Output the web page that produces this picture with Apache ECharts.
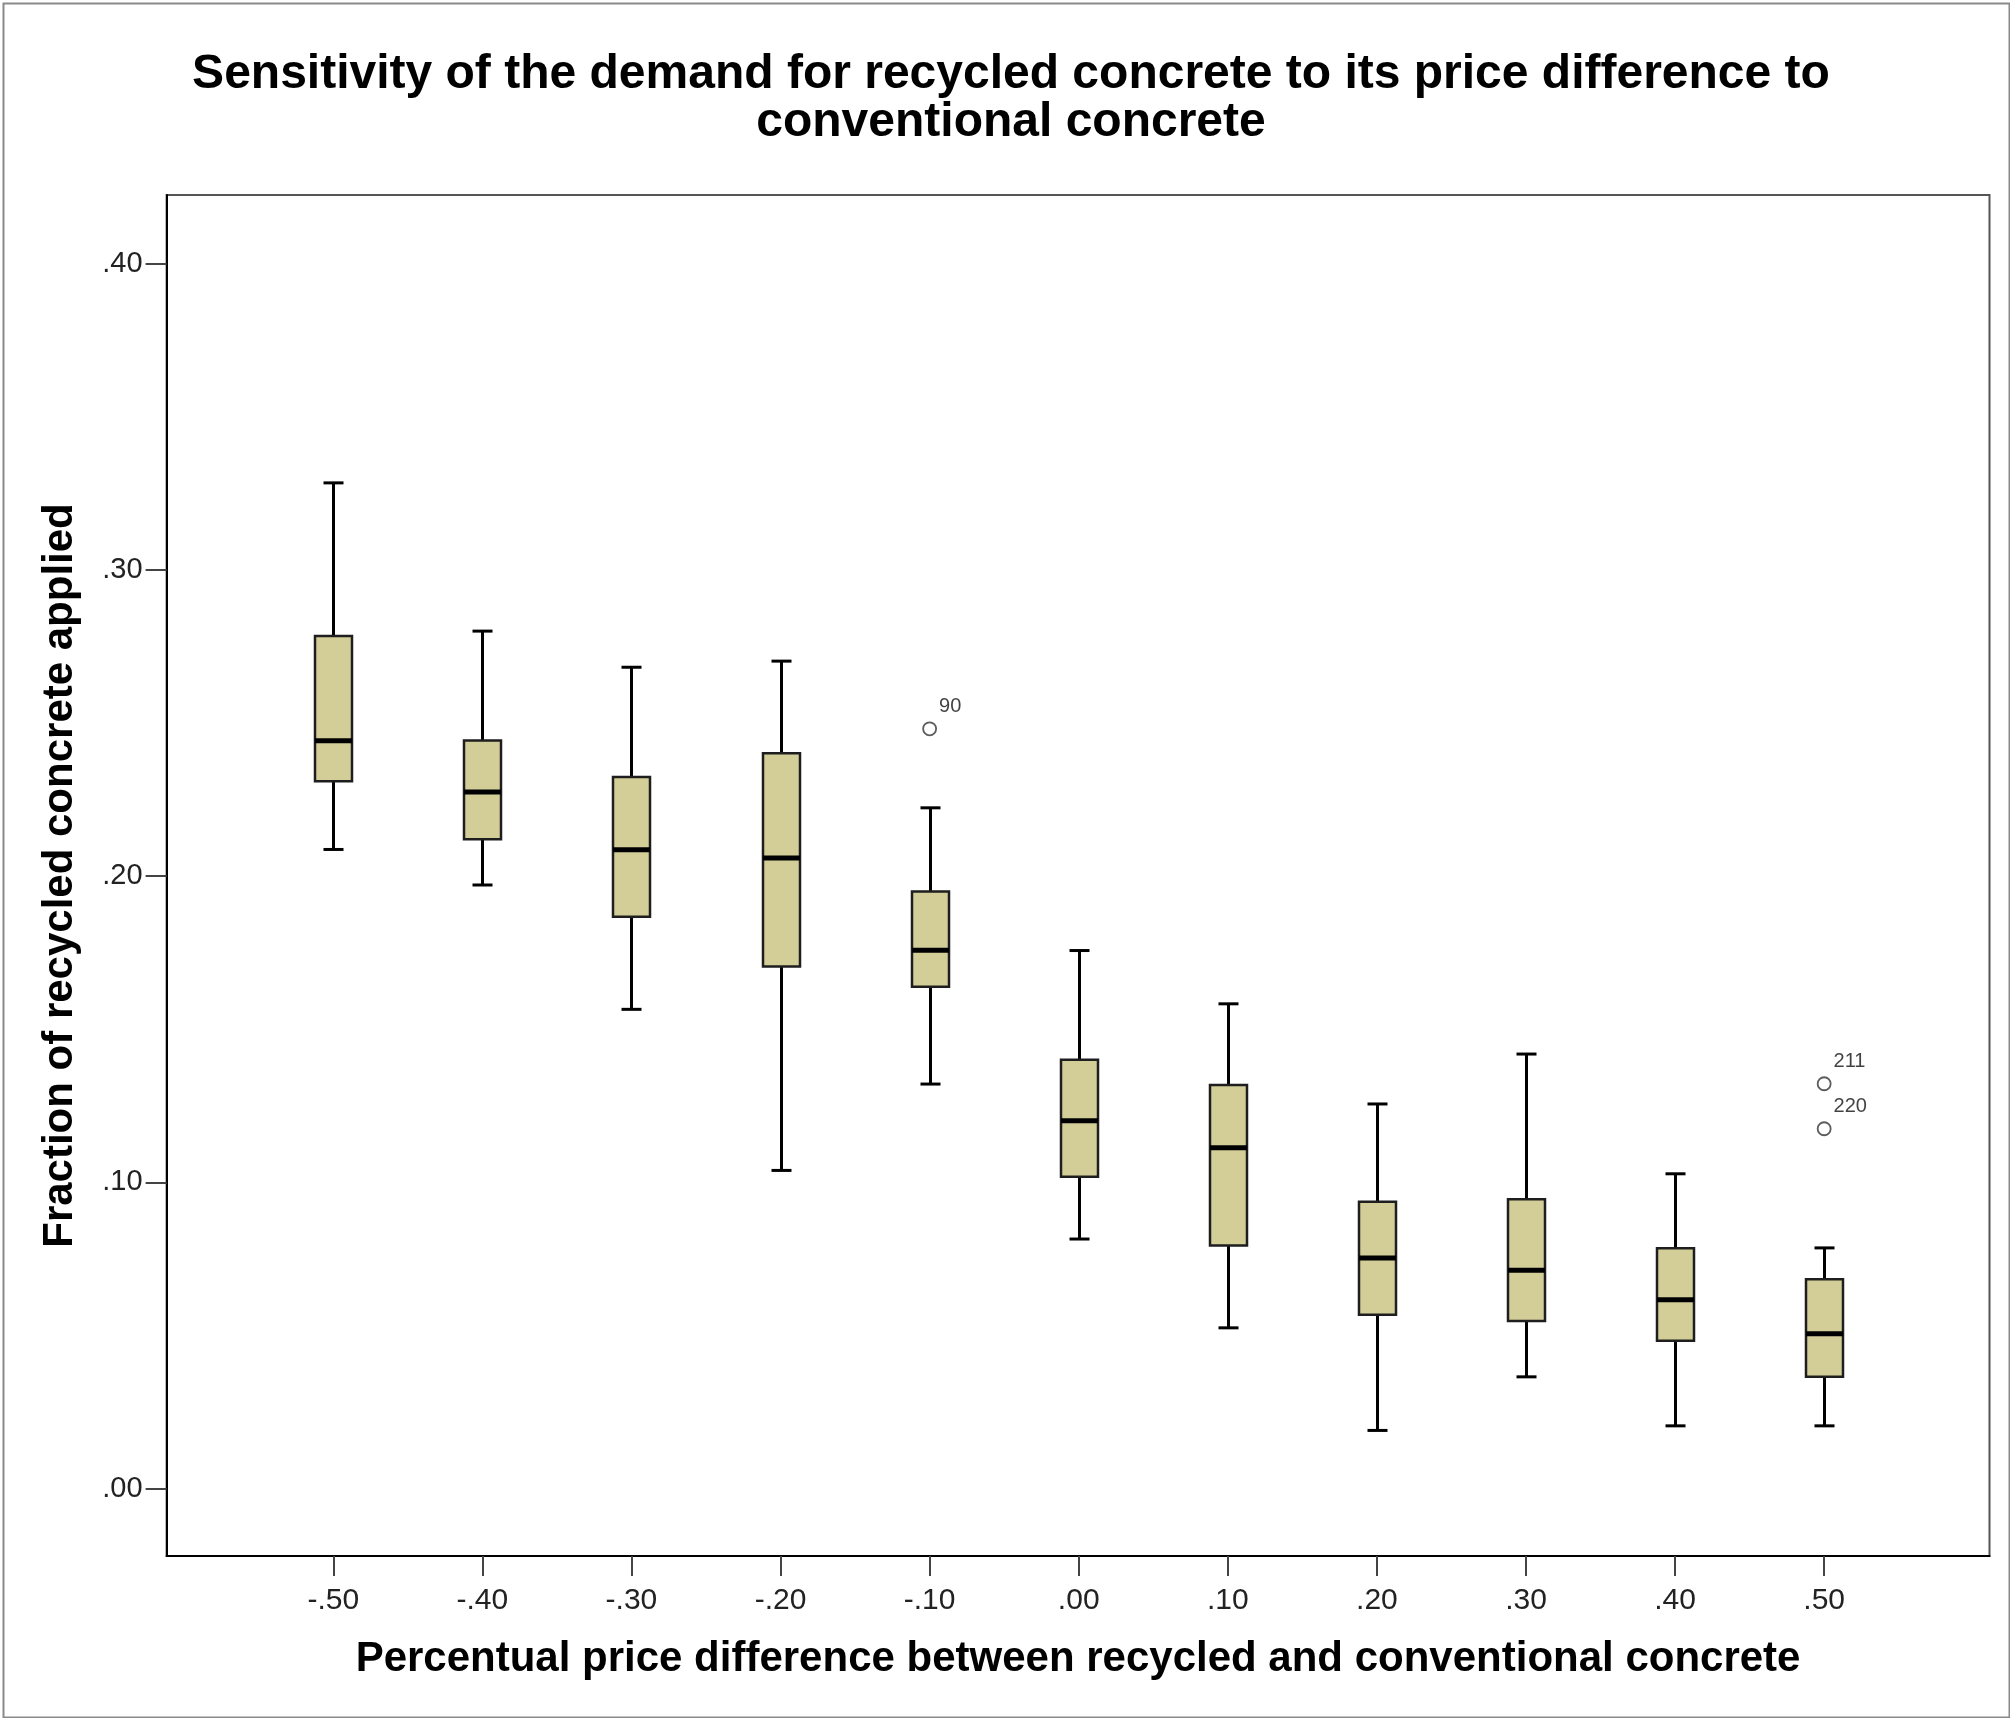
<!DOCTYPE html>
<html>
<head>
<meta charset="utf-8">
<script src="https://cdn.jsdelivr.net/npm/echarts@6/dist/echarts.min.js"></script>
<style>
html,body{margin:0;padding:0;background:#fff;}
#chart{width:2010px;height:1718px;}
</style>
</head>
<body>
<div id="chart"></div>
<script>
// ---- data ----
const priceDiff = [-0.50, -0.40, -0.30, -0.20, -0.10, 0.00, 0.10, 0.20, 0.30, 0.40, 0.50];
const whiskerLow = [0.2087, 0.1971, 0.1565, 0.1039, 0.1321, 0.0815, 0.0525, 0.0190, 0.0365, 0.0205, 0.0205];
const quartile1  = [0.2310, 0.2120, 0.1867, 0.1705, 0.1639, 0.1018, 0.0794, 0.0568, 0.0547, 0.0483, 0.0365];
const medians    = [0.2442, 0.2275, 0.2086, 0.2059, 0.1758, 0.1201, 0.1113, 0.0753, 0.0713, 0.0617, 0.0506];
const quartile3  = [0.2784, 0.2443, 0.2324, 0.2401, 0.1950, 0.1400, 0.1318, 0.0937, 0.0945, 0.0785, 0.0684];
const whiskerHigh= [0.3284, 0.2800, 0.2682, 0.2702, 0.2223, 0.1757, 0.1583, 0.1256, 0.1419, 0.1028, 0.0786];
const outlierX   = [-0.10, 0.50, 0.50];
const outlierY   = [0.2481, 0.1322, 0.1175];
const outlierId  = ['90', '211', '220'];
const xTicks = [-0.5, -0.4, -0.3, -0.2, -0.1, 0, 0.1, 0.2, 0.3, 0.4, 0.5];
const yTicks = [0, 0.1, 0.2, 0.3, 0.4];

const FONT = "'Liberation Sans', Arial, Helvetica, sans-serif";
function fmt(v) {
  const s = Math.abs(v).toFixed(2).replace(/^0/, '');
  return (v < -1e-9 ? '-' : '') + s;
}

const boxData = priceDiff.map((x, i) => [x, whiskerLow[i], quartile1[i], medians[i], quartile3[i], whiskerHigh[i]]);
const outlierData = outlierX.map((x, i) => [x, outlierY[i], outlierId[i]]);

const chart = echarts.init(document.getElementById('chart'), null, {renderer: 'canvas'});
const option = {
  backgroundColor: '#ffffff',
  animation: false,
  title: {
    text: 'Sensitivity of the demand for recycled concrete to its price difference to\nconventional concrete',
    left: 1011,
    textAlign: 'center',
    top: 51,
    padding: 0,
    textStyle: {fontFamily: FONT, fontSize: 48, fontWeight: 'bold', color: '#000', lineHeight: 48}
  },
  graphic: [{
    type: 'rect', left: 1, top: 1, z: 100, silent: true,
    shape: {width: 2006, height: 1714},
    style: {fill: 'none', stroke: '#8a8a8a', lineWidth: 2}
  }],
  grid: {
    left: 166.6, top: 195, right: 20.5, bottom: 162,
    show: true, borderColor: '#555', borderWidth: 2, backgroundColor: 'transparent',
    containLabel: false, outerBoundsMode: 'none'
  },
  xAxis: {
    type: 'value', min: -0.6118, max: 0.6109,
    name: 'Percentual price difference between recycled and conventional concrete',
    nameLocation: 'middle', nameGap: 82,
    nameTextStyle: {fontFamily: FONT, fontSize: 42, fontWeight: 'bold', color: '#000'},
    splitLine: {show: false},
    axisLine: {show: true, onZero: false, lineStyle: {color: '#000', width: 2}},
    axisTick: {show: true, inside: false, length: 20, customValues: xTicks, lineStyle: {color: '#444', width: 2}},
    axisLabel: {show: true, margin: 30, customValues: xTicks, formatter: fmt,
      fontFamily: FONT, fontSize: 30, color: '#222'}
  },
  yAxis: {
    type: 'value', min: -0.0220, max: 0.4224,
    name: 'Fraction of recycled concrete applied',
    nameLocation: 'middle', nameGap: 85, nameRotate: 90,
    nameTextStyle: {fontFamily: FONT, fontSize: 42, fontWeight: 'bold', color: '#000'},
    splitLine: {show: false},
    axisLine: {show: true, onZero: false, lineStyle: {color: '#000', width: 2}},
    axisTick: {show: true, inside: false, length: 21, customValues: yTicks, lineStyle: {color: '#444', width: 2}},
    axisLabel: {show: true, margin: 24, customValues: yTicks, formatter: fmt,
      fontFamily: FONT, fontSize: 29, color: '#222'}
  },
  series: [{
    type: 'custom',
    data: boxData,
    encode: {x: 0, y: [1, 2, 3, 4, 5]},
    renderItem: function (params, api) {
      const x = api.value(0);
      const pMin = api.coord([x, api.value(1)]);
      const pQ1 = api.coord([x, api.value(2)]);
      const pMed = api.coord([x, api.value(3)]);
      const pQ3 = api.coord([x, api.value(4)]);
      const pMax = api.coord([x, api.value(5)]);
      const cx = Math.round(pMed[0]) + 0.5;
      const half = 18.5, cap = 10;
      const wStyle = {stroke: '#000', lineWidth: 3};
      return {
        type: 'group',
        children: [
          {type: 'line', shape: {x1: cx, y1: pMax[1], x2: cx, y2: pQ3[1]}, style: wStyle},
          {type: 'line', shape: {x1: cx, y1: pQ1[1], x2: cx, y2: pMin[1]}, style: wStyle},
          {type: 'line', shape: {x1: cx - cap, y1: pMax[1], x2: cx + cap, y2: pMax[1]}, style: wStyle},
          {type: 'line', shape: {x1: cx - cap, y1: pMin[1], x2: cx + cap, y2: pMin[1]}, style: wStyle},
          {type: 'rect', shape: {x: cx - half, y: pQ3[1], width: half * 2, height: pQ1[1] - pQ3[1]},
            style: {fill: '#d3ce98', stroke: '#1e1e1e', lineWidth: 2.5}},
          {type: 'line', shape: {x1: cx - half, y1: pMed[1], x2: cx + half, y2: pMed[1]},
            style: {stroke: '#000', lineWidth: 5}}
        ]
      };
    }
  }, {
    type: 'scatter',
    data: outlierData,
    symbol: 'circle',
    symbolSize: 13,
    itemStyle: {color: '#fff', borderColor: '#333', borderWidth: 1.8},
    label: {
      show: true, position: 'right', distance: 2, offset: [0, -22],
      formatter: p => p.value[2],
      fontFamily: FONT, fontSize: 20, color: '#111'
    }
  }]
};
chart.setOption(option);
</script>
</body>
</html>
